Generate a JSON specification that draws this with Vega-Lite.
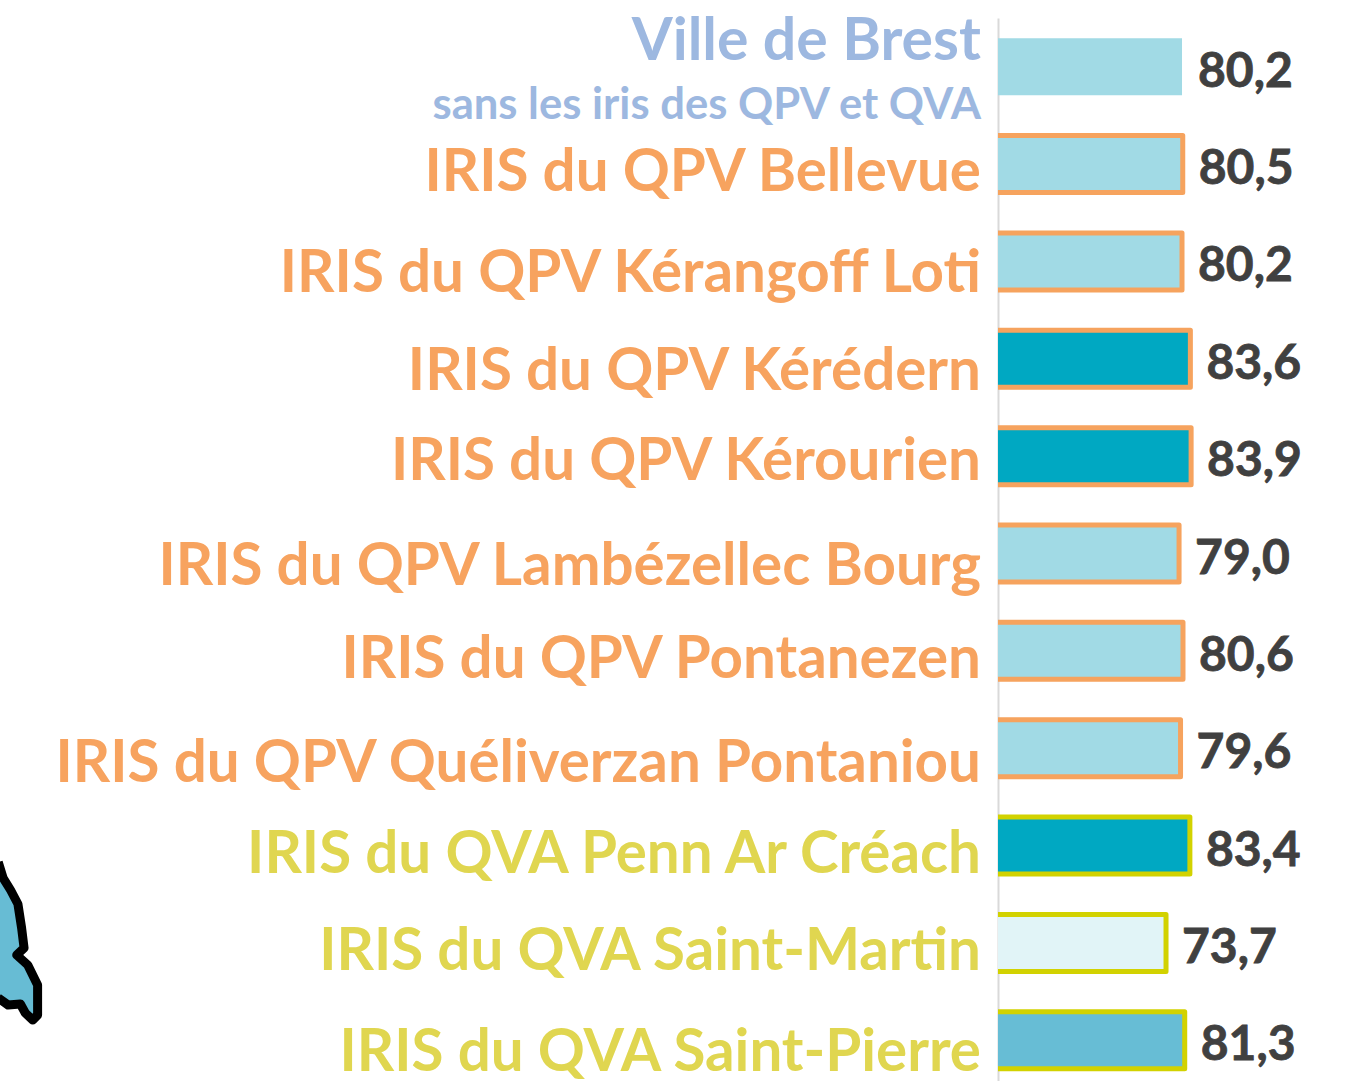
{
"$schema":"https://vega.github.io/schema/vega-lite/v6.json",
"width":354,"height":1063,
"autosize":{"type":"none"},
"padding":{"left":998,"top":18,"right":0,"bottom":0},
"background":"white",
"config":{"view":{"stroke":null},"text":{"font":"Lato"}},
"datasets":{
"rows":[
{"name":"Ville de Brest","value":80.2,"label":"80,2","group":"Ville","classe":"b","shift":"top"},
{"name":"IRIS du QPV Bellevue","value":80.5,"label":"80,5","group":"QPV","classe":"b","shift":"s6"},
{"name":"IRIS du QPV Kérangoff Loti","value":80.2,"label":"80,2","group":"QPV","classe":"b","shift":"s10"},
{"name":"IRIS du QPV Kérédern","value":83.6,"label":"83,6","group":"QPV","classe":"d","shift":"s10"},
{"name":"IRIS du QPV Kérourien","value":83.9,"label":"83,9","group":"QPV","classe":"d","shift":"s3"},
{"name":"IRIS du QPV Lambézellec Bourg","value":79.0,"label":"79,0","group":"QPV","classe":"b","shift":"s10"},
{"name":"IRIS du QPV Pontanezen","value":80.6,"label":"80,6","group":"QPV","classe":"b","shift":"s6"},
{"name":"IRIS du QPV Quéliverzan Pontaniou","value":79.6,"label":"79,6","group":"QPV","classe":"b","shift":"s13"},
{"name":"IRIS du QVA Penn Ar Créach","value":83.4,"label":"83,4","group":"QVA","classe":"d","shift":"s6"},
{"name":"IRIS du QVA Saint-Martin","value":73.7,"label":"73,7","group":"QVA","classe":"a","shift":"s6"},
{"name":"IRIS du QVA Saint-Pierre","value":81.3,"label":"81,3","group":"QVA","classe":"c","shift":"s10"}
],
"map":[
{"o":1,"mx":-401,"my":844},{"o":2,"mx":-399,"my":860},{"o":3,"mx":-396,"my":872},{"o":4,"mx":-393,"my":886},{"o":5,"mx":-391.5,"my":910},{"o":6,"mx":-390.5,"my":930},{"o":7,"mx":-393.5,"my":937},{"o":8,"mx":-389,"my":947},{"o":9,"mx":-385,"my":967},{"o":10,"mx":-385,"my":997},{"o":11,"mx":-387,"my":1002},{"o":12,"mx":-390,"my":995},{"o":13,"mx":-392,"my":986},{"o":14,"mx":-397,"my":987},{"o":15,"mx":-401,"my":980}
]
},
"resolve":{"scale":{"y":"independent"}},
"layer":[
{"data":{"name":"map"},
 "mark":{"type":"line","stroke":"#000000","strokeWidth":9,"fill":"#67BCD4","strokeJoin":"round","clip":false},
 "encoding":{
  "x":{"field":"mx","type":"quantitative","scale":{"domain":[5.4,149.3],"nice":false,"zero":false},"axis":null},
  "y":{"field":"my","type":"quantitative","scale":{"domain":[0,1063],"reverse":true,"nice":false},"axis":null},
  "order":{"field":"o"}
 }},
{"data":{"name":"rows"},
 "encoding":{
  "y":{"field":"name","type":"nominal","sort":null,
   "scale":{"domain":["Ville de Brest","IRIS du QPV Bellevue","IRIS du QPV Kérangoff Loti","IRIS du QPV Kérédern","IRIS du QPV Kérourien","IRIS du QPV Lambézellec Bourg","IRIS du QPV Pontanezen","IRIS du QPV Quéliverzan Pontaniou","IRIS du QVA Penn Ar Créach","IRIS du QVA Saint-Martin","IRIS du QVA Saint-Pierre"],"range":[0,1071],"paddingInner":0,"paddingOuter":0},
   "axis":{"labels":false,"ticks":false,"title":null,"domain":true,"domainColor":"#D9D9D9","domainWidth":2,"grid":false}}
 },
 "layer":[
 {"mark":{"type":"bar","size":57,"strokeWidth":5,"clip":true,"strokeJoin":"round"},
  "encoding":{
   "x":{"field":"value","type":"quantitative","scale":{"domain":[5.4,149.3],"nice":false,"zero":false},"axis":null},
   "fill":{"field":"classe","type":"nominal","legend":null,"scale":{"domain":["a","b","c","d"],"range":["#E1F4F7","#A1DAE5","#67BDD5","#00A8C2"]}},
   "stroke":{"field":"group","type":"nominal","legend":null,"scale":{"domain":["Ville","QPV","QVA"],"range":["transparent","#F6A35E","#D2D200"]}}
  }},
 {"mark":{"type":"text","align":"left","baseline":"middle","dx":16,"dy":6,"fontSize":48,"fontWeight":"bold","color":"#404040","stroke":"#404040","strokeWidth":0.8,"font":"Lato"},
  "encoding":{
   "x":{"field":"value","type":"quantitative"},
   "text":{"field":"label"}
  }},
 {"transform":[{"filter":"datum.shift=='top'"}],
  "mark":{"type":"text","align":"right","baseline":"middle","dx":-17,"dy":-25,"fontSize":59,"fontWeight":"bold","font":"Lato","color":"#9DB8E0"},
  "encoding":{"x":{"datum":5.4},"text":{"field":"name"}}},
 {"transform":[{"filter":"datum.shift=='top'"},{"calculate":"'sans les iris des QPV et QVA'","as":"sub"}],
  "mark":{"type":"text","align":"right","baseline":"middle","dx":-17,"dy":39,"fontSize":43.6,"fontWeight":"bold","font":"Lato","color":"#9DB8E0"},
  "encoding":{"x":{"datum":5.4},"text":{"field":"sub"}}},
 {"transform":[{"filter":"datum.shift=='s3'"}],
  "mark":{"type":"text","align":"right","baseline":"middle","dx":-17,"dy":7,"fontSize":58.3,"fontWeight":"bold","font":"Lato"},
  "encoding":{"x":{"datum":5.4},"text":{"field":"name"},"color":{"field":"group","type":"nominal","legend":null,"scale":{"domain":["QPV","QVA"],"range":["#F7A35F","#E0D650"]}}}},
 {"transform":[{"filter":"datum.shift=='s6'"}],
  "mark":{"type":"text","align":"right","baseline":"middle","dx":-17,"dy":10,"fontSize":58.3,"fontWeight":"bold","font":"Lato"},
  "encoding":{"x":{"datum":5.4},"text":{"field":"name"},"color":{"field":"group","type":"nominal","legend":null,"scale":{"domain":["QPV","QVA"],"range":["#F7A35F","#E0D650"]}}}},
 {"transform":[{"filter":"datum.shift=='s10'"}],
  "mark":{"type":"text","align":"right","baseline":"middle","dx":-17,"dy":14,"fontSize":58.3,"fontWeight":"bold","font":"Lato"},
  "encoding":{"x":{"datum":5.4},"text":{"field":"name"},"color":{"field":"group","type":"nominal","legend":null,"scale":{"domain":["QPV","QVA"],"range":["#F7A35F","#E0D650"]}}}},
 {"transform":[{"filter":"datum.shift=='s13'"}],
  "mark":{"type":"text","align":"right","baseline":"middle","dx":-17,"dy":17,"fontSize":58.3,"fontWeight":"bold","font":"Lato"},
  "encoding":{"x":{"datum":5.4},"text":{"field":"name"},"color":{"field":"group","type":"nominal","legend":null,"scale":{"domain":["QPV","QVA"],"range":["#F7A35F","#E0D650"]}}}}
 ]}
]
}
